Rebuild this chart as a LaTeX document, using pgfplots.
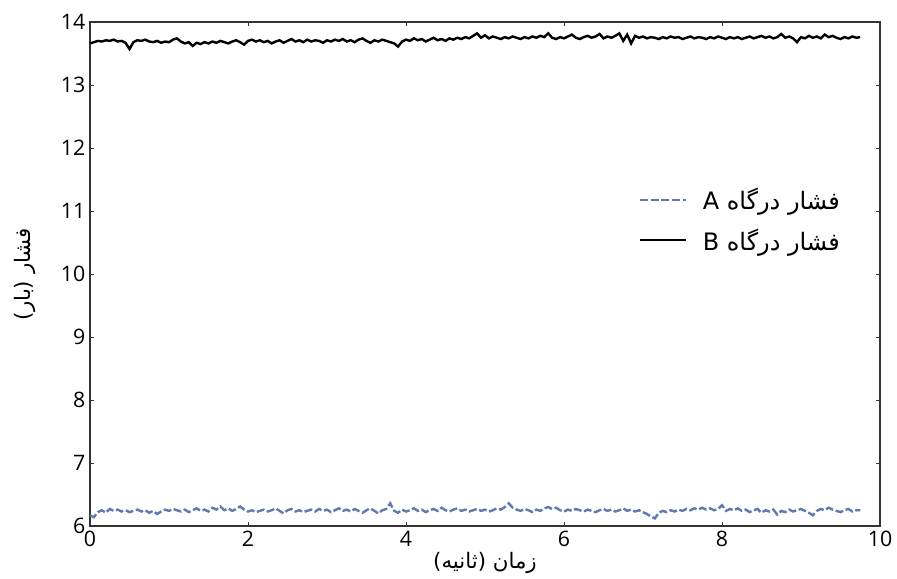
\documentclass[border=0pt]{standalone}
\usepackage{pgfplots}
\pgfplotsset{compat=1.18}
\usepackage{fontspec}
\setmainfont{Open Sans}
\newfontfamily\arabicfont[Script=Arabic]{DejaVu Sans}
\TeXXeTstate=1
\definecolor{seriesA}{RGB}{96,122,172}
\begin{document}
\begin{tikzpicture}
\begin{axis}[
  name=ax,
  scale only axis,
  width=592.5pt, height=378pt,
  xmin=0, xmax=10, ymin=6, ymax=14,
  xtick={0,2,4,6,8,10}, ytick={6,7,8,9,10,11,12,13,14},
  tick align=inside,
  major tick length=3pt,
  axis line style={black!80, line width=0.8pt},
  every tick/.style={black!80, line width=0.6pt},
  /pgf/number format/assume math mode=true,
  tick label style={font=\fontsize{16}{19}\selectfont},
  xlabel={\arabicfont\beginR زمان (ثانیه)\endR},
  ylabel={\arabicfont\beginR فشار (بار)\endR},
  label style={font=\fontsize{16}{19}\selectfont},
  xlabel style={at={(axis description cs:0.5,-0.0734)}, anchor=center},
  ylabel style={at={(axis description cs:-0.0823,0.5)}, anchor=center},
  legend style={draw=none, fill=none, at={(0.958,0.681)}, anchor=north east,
    font=\fontsize{18}{21}\selectfont, row sep=8.5pt},
  legend cell align=left,
  legend image code/.code={\draw[#1] (0cm,0cm) -- (1.2cm,0cm);},
]
\addplot[seriesA, line width=1.8pt, dash pattern=on 6pt off 2pt] coordinates {
(0.00,6.17) (0.05,6.14) (0.10,6.22) (0.15,6.25) (0.20,6.21) (0.25,6.27) (0.30,6.24) (0.35,6.26) (0.40,6.23) (0.45,6.25)
(0.50,6.22) (0.55,6.24) (0.60,6.26) (0.65,6.23) (0.70,6.25) (0.75,6.21) (0.80,6.24) (0.85,6.19) (0.90,6.23) (0.95,6.26)
(1.00,6.24) (1.05,6.27) (1.10,6.25) (1.15,6.23) (1.20,6.26) (1.25,6.22) (1.30,6.25) (1.35,6.28) (1.40,6.24) (1.45,6.26)
(1.50,6.23) (1.55,6.29) (1.60,6.26) (1.65,6.31) (1.70,6.25) (1.75,6.28) (1.80,6.24) (1.85,6.27) (1.90,6.31) (1.95,6.26)
(2.00,6.23) (2.05,6.25) (2.10,6.22) (2.15,6.24) (2.20,6.26) (2.25,6.23) (2.30,6.25) (2.35,6.28) (2.40,6.24) (2.45,6.20)
(2.50,6.25) (2.55,6.27) (2.60,6.23) (2.65,6.25) (2.70,6.22) (2.75,6.24) (2.80,6.26) (2.85,6.23) (2.90,6.27) (2.95,6.24)
(3.00,6.26) (3.05,6.22) (3.10,6.25) (3.15,6.28) (3.20,6.24) (3.25,6.26) (3.30,6.23) (3.35,6.27) (3.40,6.24) (3.45,6.21)
(3.50,6.25) (3.55,6.28) (3.60,6.24) (3.65,6.20) (3.70,6.25) (3.75,6.27) (3.80,6.36) (3.85,6.24) (3.90,6.21) (3.95,6.26)
(4.00,6.23) (4.05,6.25) (4.10,6.28) (4.15,6.24) (4.20,6.26) (4.25,6.22) (4.30,6.25) (4.35,6.27) (4.40,6.24) (4.45,6.29)
(4.50,6.25) (4.55,6.23) (4.60,6.26) (4.65,6.28) (4.70,6.24) (4.75,6.26) (4.80,6.23) (4.85,6.25) (4.90,6.27) (4.95,6.24)
(5.00,6.26) (5.05,6.23) (5.10,6.25) (5.15,6.28) (5.20,6.26) (5.25,6.30) (5.30,6.36) (5.35,6.29) (5.40,6.26) (5.45,6.24)
(5.50,6.27) (5.55,6.25) (5.60,6.22) (5.65,6.26) (5.70,6.24) (5.75,6.28) (5.80,6.30) (5.85,6.27) (5.90,6.29) (5.95,6.25)
(6.00,6.23) (6.05,6.26) (6.10,6.24) (6.15,6.27) (6.20,6.25) (6.25,6.23) (6.30,6.26) (6.35,6.24) (6.40,6.22) (6.45,6.25)
(6.50,6.27) (6.55,6.24) (6.60,6.26) (6.65,6.23) (6.70,6.25) (6.75,6.28) (6.80,6.24) (6.85,6.26) (6.90,6.23) (6.95,6.25)
(7.00,6.22) (7.05,6.19) (7.10,6.15) (7.15,6.12) (7.20,6.21) (7.25,6.24) (7.30,6.22) (7.35,6.25) (7.40,6.23) (7.45,6.26)
(7.50,6.24) (7.55,6.27) (7.60,6.25) (7.65,6.28) (7.70,6.26) (7.75,6.29) (7.80,6.26) (7.85,6.28) (7.90,6.25) (7.95,6.27)
(8.00,6.33) (8.05,6.24) (8.10,6.27) (8.15,6.25) (8.20,6.28) (8.25,6.24) (8.30,6.26) (8.35,6.22) (8.40,6.25) (8.45,6.27)
(8.50,6.21) (8.55,6.25) (8.60,6.23) (8.65,6.26) (8.70,6.18) (8.75,6.24) (8.80,6.22) (8.85,6.26) (8.90,6.23) (8.95,6.25)
(9.00,6.27) (9.05,6.24) (9.10,6.21) (9.15,6.17) (9.20,6.24) (9.25,6.27) (9.30,6.25) (9.35,6.29) (9.40,6.26) (9.45,6.24)
(9.50,6.22) (9.55,6.25) (9.60,6.27) (9.65,6.23) (9.70,6.25) (9.75,6.25)
};
\addlegendentry{\hspace{10pt}\arabicfont\beginR فشار درگاه A\endR}
\addplot[black, line width=1.8pt] coordinates {
(0.00,13.66) (0.05,13.68) (0.10,13.70) (0.15,13.69) (0.20,13.71) (0.25,13.70) (0.30,13.72) (0.35,13.69) (0.40,13.70) (0.45,13.67)
(0.50,13.57) (0.55,13.68) (0.60,13.71) (0.65,13.70) (0.70,13.72) (0.75,13.69) (0.80,13.68) (0.85,13.70) (0.90,13.67) (0.95,13.69)
(1.00,13.68) (1.05,13.72) (1.10,13.74) (1.15,13.69) (1.20,13.66) (1.25,13.68) (1.30,13.62) (1.35,13.67) (1.40,13.65) (1.45,13.68)
(1.50,13.66) (1.55,13.69) (1.60,13.67) (1.65,13.70) (1.70,13.68) (1.75,13.66) (1.80,13.69) (1.85,13.71) (1.90,13.68) (1.95,13.64)
(2.00,13.70) (2.05,13.72) (2.10,13.69) (2.15,13.71) (2.20,13.68) (2.25,13.70) (2.30,13.66) (2.35,13.69) (2.40,13.71) (2.45,13.67)
(2.50,13.70) (2.55,13.73) (2.60,13.69) (2.65,13.71) (2.70,13.68) (2.75,13.72) (2.80,13.69) (2.85,13.71) (2.90,13.70) (2.95,13.67)
(3.00,13.71) (3.05,13.69) (3.10,13.72) (3.15,13.70) (3.20,13.73) (3.25,13.69) (3.30,13.71) (3.35,13.68) (3.40,13.72) (3.45,13.74)
(3.50,13.70) (3.55,13.67) (3.60,13.71) (3.65,13.69) (3.70,13.72) (3.75,13.70) (3.80,13.68) (3.85,13.66) (3.90,13.61) (3.95,13.69)
(4.00,13.72) (4.05,13.70) (4.10,13.74) (4.15,13.71) (4.20,13.73) (4.25,13.69) (4.30,13.72) (4.35,13.75) (4.40,13.71) (4.45,13.73)
(4.50,13.70) (4.55,13.74) (4.60,13.72) (4.65,13.75) (4.70,13.73) (4.75,13.76) (4.80,13.74) (4.85,13.78) (4.90,13.82) (4.95,13.75)
(5.00,13.79) (5.05,13.74) (5.10,13.77) (5.15,13.75) (5.20,13.73) (5.25,13.76) (5.30,13.74) (5.35,13.77) (5.40,13.75) (5.45,13.73)
(5.50,13.76) (5.55,13.74) (5.60,13.77) (5.65,13.75) (5.70,13.78) (5.75,13.76) (5.80,13.82) (5.85,13.75) (5.90,13.73) (5.95,13.76)
(6.00,13.74) (6.05,13.77) (6.10,13.80) (6.15,13.75) (6.20,13.73) (6.25,13.76) (6.30,13.78) (6.35,13.75) (6.40,13.77) (6.45,13.81)
(6.50,13.74) (6.55,13.77) (6.60,13.75) (6.65,13.78) (6.70,13.82) (6.75,13.70) (6.80,13.80) (6.85,13.66) (6.90,13.78) (6.95,13.75)
(7.00,13.77) (7.05,13.74) (7.10,13.76) (7.15,13.75) (7.20,13.73) (7.25,13.76) (7.30,13.74) (7.35,13.77) (7.40,13.75) (7.45,13.76)
(7.50,13.73) (7.55,13.75) (7.60,13.77) (7.65,13.74) (7.70,13.76) (7.75,13.75) (7.80,13.73) (7.85,13.76) (7.90,13.74) (7.95,13.77)
(8.00,13.75) (8.05,13.73) (8.10,13.76) (8.15,13.74) (8.20,13.76) (8.25,13.73) (8.30,13.75) (8.35,13.77) (8.40,13.74) (8.45,13.76)
(8.50,13.78) (8.55,13.75) (8.60,13.77) (8.65,13.74) (8.70,13.76) (8.75,13.81) (8.80,13.75) (8.85,13.77) (8.90,13.74) (8.95,13.68)
(9.00,13.76) (9.05,13.74) (9.10,13.78) (9.15,13.75) (9.20,13.77) (9.25,13.74) (9.30,13.80) (9.35,13.76) (9.40,13.78) (9.45,13.75)
(9.50,13.73) (9.55,13.76) (9.60,13.74) (9.65,13.77) (9.70,13.75) (9.75,13.76)
};
\addlegendentry{\hspace{10pt}\arabicfont\beginR فشار درگاه B\endR}
\end{axis}
\pgfresetboundingbox
\path ([xshift=-67.5pt,yshift=-39.75pt]ax.south west) rectangle ([xshift=12.75pt,yshift=16.5pt]ax.north east);
\end{tikzpicture}
\end{document}
